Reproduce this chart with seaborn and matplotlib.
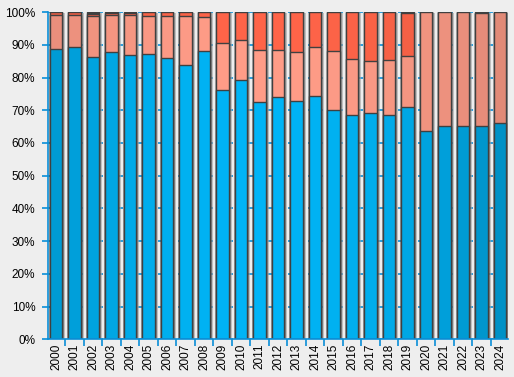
import matplotlib
matplotlib.use("Agg")
import matplotlib.pyplot as plt
import matplotlib.patheffects as pe
from matplotlib.ticker import FixedLocator, PercentFormatter
import seaborn as sns
import numpy as np
import pandas as pd

# share of each segment per year (percent)
years = [str(y) for y in range(2000, 2025)]
blue = [88.7, 89.3, 86.2, 87.8, 86.8, 87.1, 85.9, 83.8, 88.1, 76.1, 79.2, 72.4, 74.0,
        72.8, 74.3, 70.0, 68.5, 69.1, 68.5, 70.9, 63.6, 65.1, 65.1, 65.1, 66.1]
salmon = [10.4, 9.8, 12.6, 11.3, 12.3, 11.7, 12.9, 15.0, 10.4, 14.4, 12.2, 16.0, 14.4,
          15.0, 15.0, 18.1, 17.1, 15.9, 16.8, 15.6, 36.4, 34.9, 34.9, 34.6, 33.9]
red = [0.9, 0.9, 0.7, 0.5, 0.5, 1.2, 1.2, 1.2, 1.5, 9.5, 8.6, 11.6, 11.6,
       12.2, 10.7, 11.9, 14.4, 15.0, 14.7, 13.2, 0.0, 0.0, 0.0, 0.0, 0.0]
other = [0.0, 0.0, 0.5, 0.4, 0.4, 0.0, 0.0, 0.0, 0.0, 0.0, 0.0, 0.0, 0.0,
         0.0, 0.0, 0.0, 0.0, 0.0, 0.0, 0.3, 0.0, 0.0, 0.0, 0.3, 0.0]

df = pd.DataFrame({"year": years, "blue": blue, "salmon": salmon, "red": red, "other": other})
df["c_blue"] = df["blue"]
df["c_salmon"] = df["c_blue"] + df["salmon"]
df["c_red"] = df["c_salmon"] + df["red"]
df["c_other"] = df["c_red"] + df["other"]

BG = "#eeeeee"
AXIS = "#0a8fd8"
EDGE = "#404040"

# horizontal light falloff, brightest around the middle of the chart
idx = np.arange(len(years))
shade = 1 - 0.00115 * (idx - 11) ** 2


def shaded(base, amount):
    rgb = np.array(matplotlib.colors.to_rgb(base))
    return [tuple(np.clip(rgb * (1 - amount * (1 - s)), 0, 1)) for s in shade]


layers = [
    ("c_other", ["#404040"] * len(years)),
    ("c_red", shaded("#ff6448", 0.6)),
    ("c_salmon", shaded("#ff9c87", 0.6)),
    ("c_blue", shaded("#00b4f6", 1.0)),
]

sns.set_style("white")
plt.rcParams["font.family"] = ["Liberation Sans", "DejaVu Sans"]

fig, ax = plt.subplots(figsize=(5.14, 3.77), dpi=100)
fig.patch.set_facecolor(BG)
ax.set_facecolor(BG)

for k, (col, colors) in enumerate(layers):
    n_before = len(ax.patches)
    sns.barplot(data=df, x="year", y=col, hue="year", palette=colors, legend=False,
                width=0.68, saturation=1, edgecolor=EDGE, linewidth=1.0, ax=ax, zorder=2)
    if k == 0:
        for p in ax.patches[n_before:]:
            p.set_path_effects([pe.SimplePatchShadow(offset=(2.2, -1.0), shadow_rgbFace="#a0a0a0",
                                                     alpha=0.6), pe.Normal()])

ax.set_xlim(-0.45, len(years) - 0.55)
ax.set_ylim(0, 100)
ax.yaxis.set_major_locator(FixedLocator(np.arange(0, 101, 10)))
ax.yaxis.set_major_formatter(PercentFormatter(decimals=0))
ax.xaxis.set_minor_locator(FixedLocator(np.arange(-0.5, len(years), 1.0)))

ax.set_xlabel("")
ax.set_ylabel("")
for s in ["top", "right"]:
    ax.spines[s].set_visible(False)
for s in ["left", "bottom"]:
    ax.spines[s].set_color(AXIS)
    ax.spines[s].set_linewidth(1.2)
    ax.spines[s].set_zorder(3)

ax.yaxis.grid(True, color=AXIS, linestyle=(0, (3, 3)), linewidth=1.2, zorder=0)
ax.set_axisbelow(True)

ax.tick_params(axis="y", which="major", length=4, width=1.2, color=AXIS, pad=5,
               labelsize=8.5, labelcolor="black", left=True)
ax.tick_params(axis="x", which="major", length=0, pad=3, labelsize=8.5,
               labelcolor="black", labelrotation=90)
ax.tick_params(axis="x", which="minor", length=5, width=1.2, color=AXIS, bottom=True)

fig.subplots_adjust(left=0.093, right=0.989, top=0.968, bottom=0.1)
fig.savefig("out.png", dpi=100, facecolor=BG)
